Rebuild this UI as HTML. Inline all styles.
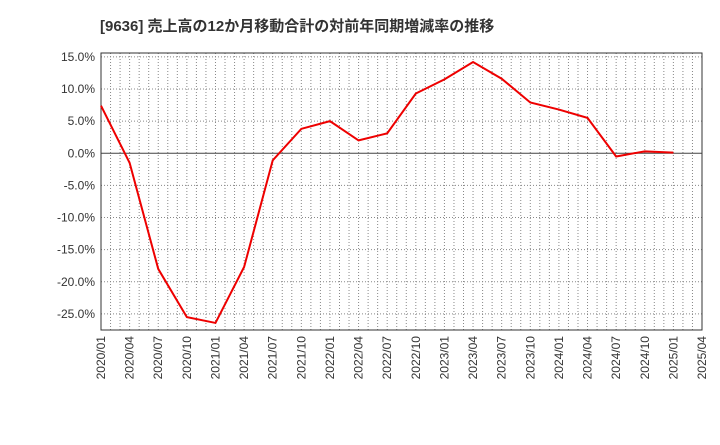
<!DOCTYPE html>
<html><head><meta charset="utf-8"><style>
body{margin:0;background:#fff;font-family:"Liberation Sans","Noto Sans CJK JP",sans-serif}
svg text{font-family:"Liberation Sans","Noto Sans CJK JP",sans-serif;fill:#333}
</style></head><body>
<svg id="c" width="720" height="440">
<text x="100" y="31" font-size="15" font-weight="bold">[9636]  売上高の12か月移動合計の対前年同期増減率の推移</text>
</svg>
<script>
const categories=["2020/01","2020/04","2020/07","2020/10","2021/01","2021/04","2021/07","2021/10","2022/01","2022/04","2022/07","2022/10","2023/01","2023/04","2023/07","2023/10","2024/01","2024/04","2024/07","2024/10","2025/01"];
const xTickLabels=["2020/01","2020/04","2020/07","2020/10","2021/01","2021/04","2021/07","2021/10","2022/01","2022/04","2022/07","2022/10","2023/01","2023/04","2023/07","2023/10","2024/01","2024/04","2024/07","2024/10","2025/01","2025/04"];
const values=[7.4,-1.5,-18.0,-25.5,-26.4,-17.7,-1.1,3.8,5.0,2.0,3.1,9.3,11.5,14.2,11.6,7.9,6.8,5.5,-0.5,0.3,0.1];
const yTicks=[15,10,5,0,-5,-10,-15,-20,-25];
const NS="http://www.w3.org/2000/svg",svg=document.getElementById("c");
const L=101,R=702,T=53,B=330,yMax=15.6,yMin=-27.5;
const x=i=>L+(R-L)*i/(xTickLabels.length-1);
const y=v=>T+(yMax-v)/(yMax-yMin)*(B-T);
function mk(t,a){const e=document.createElementNS(NS,t);for(const k in a)e.setAttribute(k,a[k]);svg.appendChild(e);return e;}
for(let m=1;m<(xTickLabels.length-1)*3;m++){const xx=L+(R-L)*m/((xTickLabels.length-1)*3);
const g=mk("line",{x1:xx,x2:xx,y1:T,y2:B,stroke:"#888","stroke-dasharray":"1,2","stroke-width":1});

}
yTicks.forEach(v=>{const yy=y(v);
const g=mk("line",{x1:L,x2:R,y1:yy,y2:yy,stroke:v===0?"#444":"#888","stroke-dasharray":v===0?"":"1,2","stroke-width":1});


const t=mk("text",{x:L-6,y:yy+4,"text-anchor":"end","font-size":12});t.textContent=v.toFixed(1)+"%";

});
xTickLabels.forEach((c,i)=>{const t=mk("text",{transform:`translate(${x(i)+4},${B+6}) rotate(-90)`,"text-anchor":"end","font-size":12});t.textContent=c;

});
const fr=mk("rect",{x:L,y:T,width:R-L,height:B-T,fill:"none",stroke:"#333"});


const ln=mk("polyline",{points:values.map((v,i)=>x(i)+","+y(v)).join(" "),fill:"none",stroke:"#e00",  "stroke-width":2});


</script>
</body></html>
